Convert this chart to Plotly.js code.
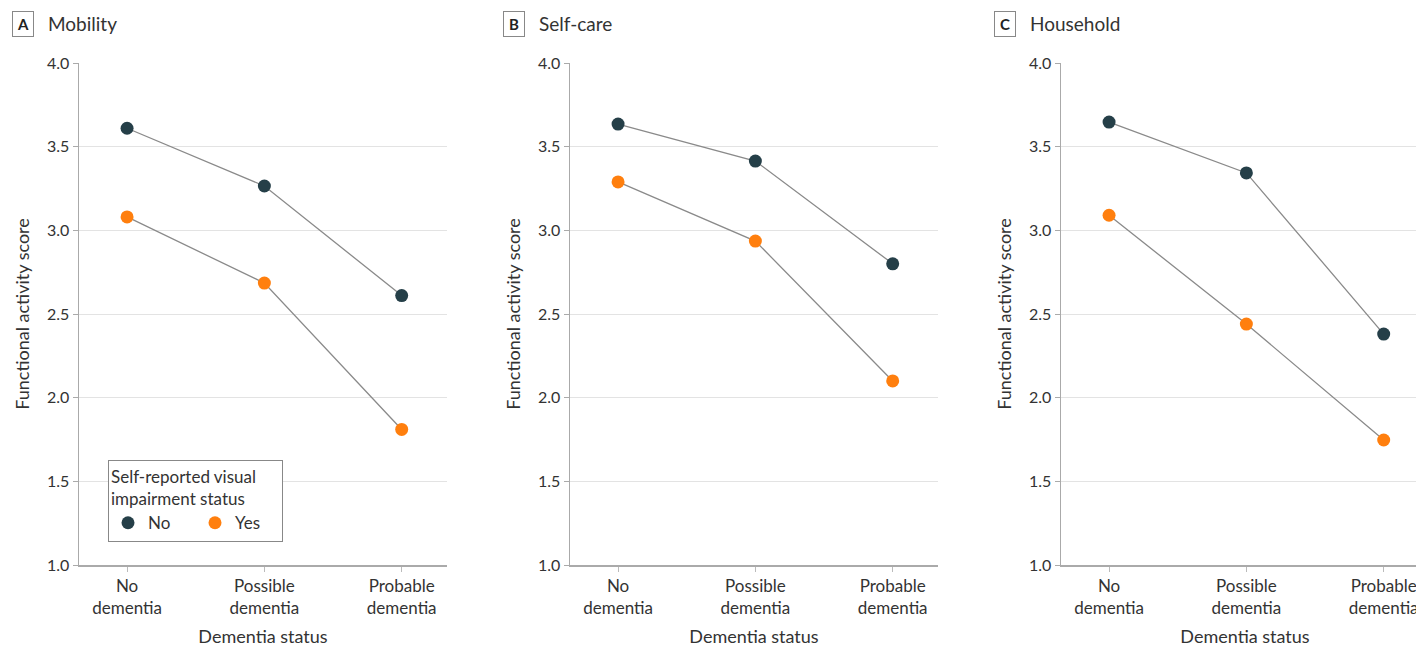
<!DOCTYPE html>
<html><head><meta charset="utf-8">
<script src="https://cdn.plot.ly/plotly-3.0.1.min.js"></script>
<style>html,body{margin:0;padding:0;overflow:hidden;background:#fff}#chart{width:1460px;height:647px}</style>
</head><body><div id="chart"></div>
<script>
const categories = ["No<br>dementia", "Possible<br>dementia", "Probable<br>dementia"];
const panelLetters = ["A", "B", "C"];
const panelTitles = ["Mobility", "Self-care", "Household"];
const mobilityNo = [3.61, 3.265, 2.61];
const mobilityYes = [3.08, 2.685, 1.81];
const selfcareNo = [3.635, 3.414, 2.80];
const selfcareYes = [3.289, 2.936, 2.10];
const householdNo = [3.647, 3.343, 2.38];
const householdYes = [3.09, 2.44, 1.747];
const seriesNames = ["No", "Yes"];
const yTicks = [1.0, 1.5, 2.0, 2.5, 3.0, 3.5, 4.0];

const W = 1460, H = 647;
const FONT = "Lato, 'Open Sans', sans-serif";
const noColor = "#253f48", yesColor = "#ff7f0e", lineColor = "#8a8a8a";
const panelData = [[mobilityNo, mobilityYes], [selfcareNo, selfcareYes], [householdNo, householdYes]];
const xStarts = [79, 570, 1061];
const plotW = 368;
const xs = [0, 1, 2];

const traces = [];
const layout = {
  width: W, height: H, autosize: false,
  margin: {l: 0, r: 0, t: 0, b: 0},
  paper_bgcolor: "#fff", plot_bgcolor: "#fff",
  font: {family: FONT, size: 17, color: "#333"},
  showlegend: true,
  legend: {
    x: 108 / W, y: 1 - 460 / H, xanchor: "left", yanchor: "top",
    orientation: "h", bordercolor: "#888", borderwidth: 1, bgcolor: "#fff",
    title: {text: "Self-reported visual<br>impairment status", side: "top", font: {size: 17, color: "#333"}},
    font: {size: 17, color: "#333"}, itemwidth: 30, tracegroupgap: 0, entrywidth: 42
  },
  annotations: []
};

panelData.forEach((pd, i) => {
  const ax = i === 0 ? "" : String(i + 1);
  const xa = "x" + ax, ya = "y" + ax;
  pd.forEach((vals) => {
    traces.push({x: xs, y: vals, xaxis: xa, yaxis: ya, mode: "lines",
      line: {color: lineColor, width: 1.3}, showlegend: false, hoverinfo: "skip"});
  });
  pd.forEach((vals, j) => {
    traces.push({x: xs, y: vals, xaxis: xa, yaxis: ya, mode: "markers", name: seriesNames[j],
      marker: {color: j === 0 ? noColor : yesColor, size: 13},
      showlegend: i === 0, legendgroup: seriesNames[j]});
  });
  const d0 = xStarts[i] / W, d1 = (xStarts[i] + plotW) / W;
  layout["xaxis" + ax] = {
    domain: [d0, d1], anchor: ya, range: [-0.35, 2.33],
    tickmode: "array", tickvals: xs, ticktext: categories,
    ticks: "outside", ticklen: 5, tickcolor: "#bbb",
    showline: true, linecolor: "#aaa", linewidth: 1.5, showgrid: false, zeroline: false,
    tickfont: {size: 17, color: "#333"},
    title: {text: "Dementia status", font: {size: 18, color: "#333"}, standoff: 14}
  };
  layout["yaxis" + ax] = {
    domain: [1 - 565 / H, 1 - 63 / H], anchor: xa, range: [1.0, 4.0],
    tickmode: "array", tickvals: yTicks, ticktext: yTicks.map(v => v.toFixed(1)),
    ticks: "outside", ticklen: 5, tickcolor: "#aaa",
    showline: true, linecolor: "#aaa", linewidth: 1.5,
    showgrid: true, gridcolor: "#e3e3e3", gridwidth: 1, zeroline: false,
    tickfont: {size: 16, color: "#333"},
    title: {text: "Functional activity score", font: {size: 18, color: "#333"}, standoff: 12}
  };
  layout.annotations.push({
    xref: "paper", yref: "paper", x: (xStarts[i] - 56) / W, y: 1 - 24 / H, xanchor: "center", yanchor: "middle",
    text: "<b>" + panelLetters[i] + "</b>", showarrow: false,
    font: {size: 15, color: "#222"}, bordercolor: "#888", borderwidth: 1, borderpad: 3, width: 14
  });
  layout.annotations.push({
    xref: "paper", yref: "paper", x: (xStarts[i] - 33) / W, y: 1 - 24 / H, xanchor: "left", yanchor: "middle",
    text: panelTitles[i], showarrow: false, font: {size: 19, color: "#333"}
  });
});

Plotly.newPlot("chart", traces, layout, {displayModeBar: false, staticPlot: true});
</script></body></html>
